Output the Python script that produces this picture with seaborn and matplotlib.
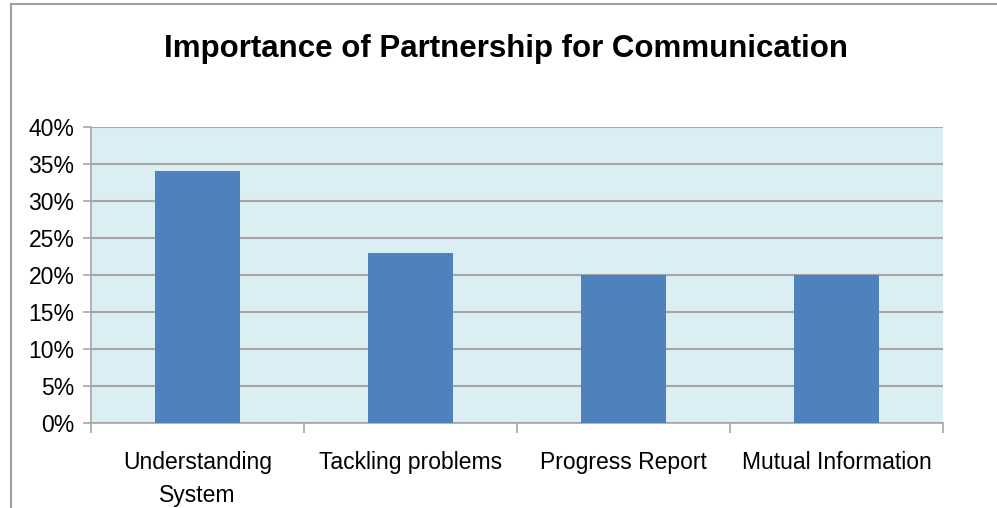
import matplotlib
matplotlib.use("Agg")
import matplotlib.pyplot as plt
import seaborn as sns
import pandas as pd
from matplotlib.ticker import PercentFormatter, MultipleLocator, FixedLocator
from matplotlib.patches import Rectangle

categories = ["Understanding\nSystem", "Tackling problems", "Progress Report", "Mutual Information"]
values = [0.34, 0.23, 0.20, 0.20]
title = "Importance of Partnership for Communication"

bar_color = "#4F81BD"
bg_color = "#DBEEF3"
grid_color = "#A6A6A6"

sns.set_theme(style="white")
plt.rcParams["font.family"] = ["Liberation Sans", "DejaVu Sans"]

fig = plt.figure(figsize=(9.97, 5.08), dpi=100)
fig.patch.set_facecolor("white")

# outer chart border (cropped on right and bottom)
fig.patches.append(Rectangle((11 / 997, -0.05), 1.2, 1 - 4 / 508 + 0.05,
                             transform=fig.transFigure, fill=False,
                             edgecolor="#A0A0A0", linewidth=1.5))

ax = fig.add_axes([91 / 997, 1 - 423 / 508, (943 - 91) / 997, (423 - 127) / 508])
ax.set_facecolor(bg_color)

df = pd.DataFrame({"category": categories, "value": values})
sns.barplot(data=df, x="category", y="value", color=bar_color, width=0.4,
            saturation=1, ax=ax, zorder=3, linewidth=0, edgecolor="none")

ax.set_ylim(0, 0.40)
ax.set_xlim(-0.5, len(categories) - 0.5)
ax.yaxis.set_major_locator(MultipleLocator(0.05))
ax.yaxis.set_major_formatter(PercentFormatter(1.0, decimals=0))
ax.grid(axis="y", color=grid_color, linewidth=1.5, zorder=0)
ax.set_axisbelow(True)

for s in ["top", "right"]:
    ax.spines[s].set_visible(False)
for s in ["left", "bottom"]:
    ax.spines[s].set_color(grid_color)
    ax.spines[s].set_linewidth(1.2)

ax.set_xlabel("")
ax.set_ylabel("")
ax.tick_params(axis="y", which="major", length=6, width=1.2, color=grid_color,
               labelsize=16.5, pad=6, labelcolor="black", left=True)
ax.tick_params(axis="x", which="major", length=0, labelsize=16.5, pad=20,
               labelcolor="black")
ax.xaxis.set_minor_locator(FixedLocator([i - 0.5 for i in range(len(categories) + 1)]))
ax.tick_params(axis="x", which="minor", length=7, width=1.2, color=grid_color,
               bottom=True)
for lbl in ax.get_xticklabels():
    lbl.set_linespacing(1.55)
    lbl.set_verticalalignment("top")

fig.text(0.508, 1 - 49 / 508, title, ha="center", va="center",
         fontsize=22.5, fontweight="bold", color="black")

fig.savefig("out.png", dpi=100, facecolor="white")
